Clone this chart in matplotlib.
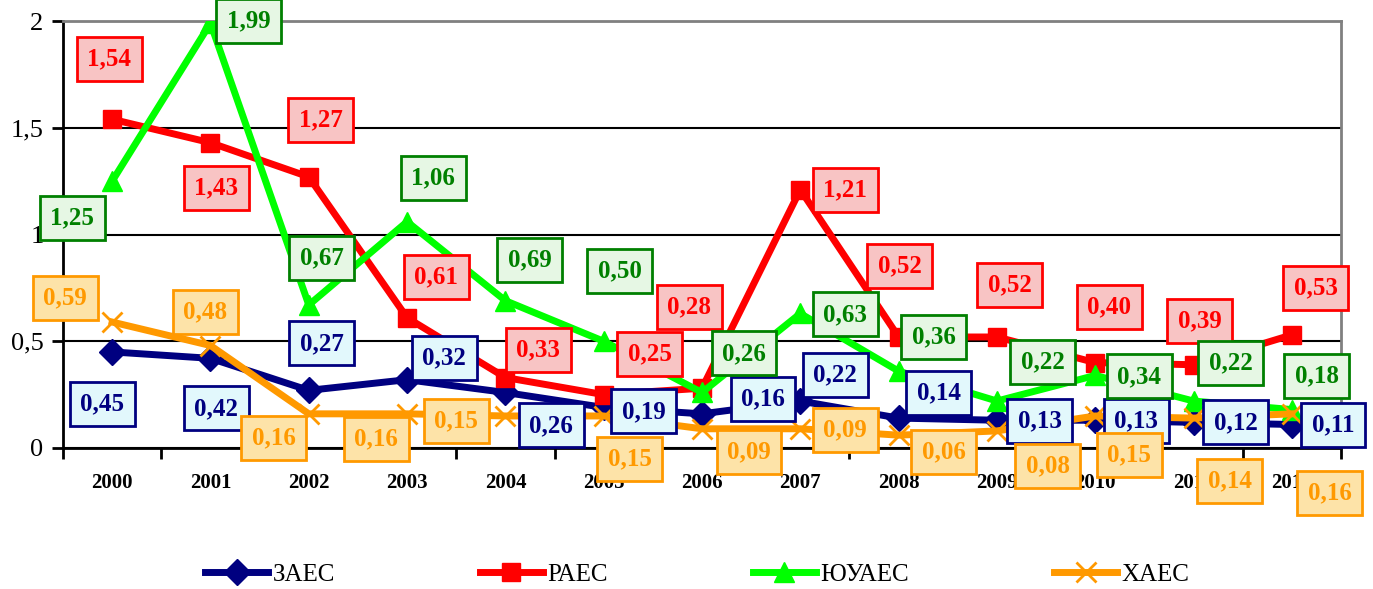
import matplotlib
matplotlib.use("Agg")
import matplotlib.pyplot as plt
import numpy as np

plt.rcParams['font.family'] = ['Liberation Serif', 'DejaVu Serif']

years = ["2000", "2001", "2002", "2003", "2004", "2005", "2006",
         "2007", "2008", "2009", "2010", "2011", "2012"]
zaes = [0.45, 0.42, 0.27, 0.32, 0.26, 0.19, 0.16, 0.22, 0.14, 0.13, 0.13, 0.12, 0.11]
raes = [1.54, 1.43, 1.27, 0.61, 0.33, 0.25, 0.28, 1.21, 0.52, 0.52, 0.40, 0.39, 0.53]
yuaes = [1.25, 1.99, 0.67, 1.06, 0.69, 0.50, 0.26, 0.63, 0.36, 0.22, 0.34, 0.22, 0.18]
khaes = [0.59, 0.48, 0.16, 0.16, 0.15, 0.15, 0.09, 0.09, 0.06, 0.08, 0.15, 0.14, 0.16]
names = ["ЗАЕС", "РАЕС", "ЮУАЕС", "ХАЕС"]

# label box offsets from the point, in pixels (x right, y up)
zaes_off = [(-10, -52), (6, -50), (13, 47), (37, 22), (46, -33), (40, -4), (61, 15),
            (35, 26), (40, 25), (43, -1), (41, -1), (42, 0), (41, 0)]
raes_off = [(-3, 60), (6, -45), (12, 57), (29, 41), (33, 28), (46, 41), (-13, 81),
            (45, 0), (1, 71), (13, 52), (14, 56), (6, 44), (24, 47)]
yuaes_off = [(-40, -37), (38, 2), (13, 47), (26, 44), (24, 41), (16, 70), (42, 39),
             (45, -1), (35, 34), (46, 39), (44, -1), (37, 38), (25, 34)]
khaes_off = [(-47, 24), (-5, 34), (-35, -24), (-31, -25), (-49, -5), (26, -43), (47, -23),
             (45, -1), (45, -17), (51, -35), (34, -39), (36, -63), (38, -79)]

series = [
    (zaes, zaes_off, "#000080", "D", 13, "#000080", "#e2f8fc", "#000080"),
    (raes, raes_off, "#ff0000", "s", 13, "#ff0000", "#f8c4c4", "#ff0000"),
    (yuaes, yuaes_off, "#00ff00", "^", 15, "#008000", "#e6f7e4", "#008000"),
    (khaes, khaes_off, "#ff9900", "x", 15, "#ff9900", "#fde3a8", "#ff9900"),
]

fig = plt.figure(figsize=(13.73, 5.89), dpi=100)
ax = fig.add_axes([0.0459, 0.2394, 0.9308, 0.7249])
x = np.arange(len(years))

for (vals, offs, col, mk, ms, tcol, fcol, ecol), name in zip(series, names):
    ax.plot(x, vals, color=col, lw=5, marker=mk, markersize=ms,
            markeredgewidth=2 if mk == "x" else 1, label=name, zorder=3)

for (vals, offs, col, mk, ms, tcol, fcol, ecol) in series:
    for i, v in enumerate(vals):
        ax.annotate("{:.2f}".format(v).replace(".", ","), xy=(i, v),
                    xytext=offs[i], textcoords="offset pixels",
                    ha="center", va="center", fontsize=18, fontweight="bold",
                    color=tcol, annotation_clip=False, zorder=5,
                    bbox=dict(boxstyle="square,pad=0.42", fc=fcol, ec=ecol, lw=2))

ax.set_xlim(-0.5, 12.5)
ax.set_ylim(0, 2)
ax.set_yticks([0, 0.5, 1, 1.5, 2])
ax.set_yticklabels(["0", "0,5", "1", "1,5", "2"], fontsize=19)
ax.yaxis.grid(True, color="black", lw=1.5, zorder=0)
ax.set_xticks(x)
ax.set_xticklabels(years, fontsize=15, fontweight="bold")
ax.set_xticks(np.arange(-0.5, 13, 1), minor=True)
ax.tick_params(axis="x", which="major", length=0, pad=18)
ax.tick_params(axis="x", which="minor", length=8, width=2, direction="out")
ax.tick_params(axis="y", length=8, width=2, direction="out", pad=6)
for s in ["left", "bottom"]:
    ax.spines[s].set_linewidth(2)
    ax.spines[s].set_color("black")
for s in ["top", "right"]:
    ax.spines[s].set_linewidth(2)
    ax.spines[s].set_color("#808080")
ax.set_axisbelow(True)

fig.legend(loc="center", bbox_to_anchor=(0.508, 0.024), ncol=4, frameon=False,
           fontsize=18, handlelength=2.5, handletextpad=0.2, columnspacing=5.8,
           markerscale=1.0)

plt.savefig("out.png", dpi=100)
